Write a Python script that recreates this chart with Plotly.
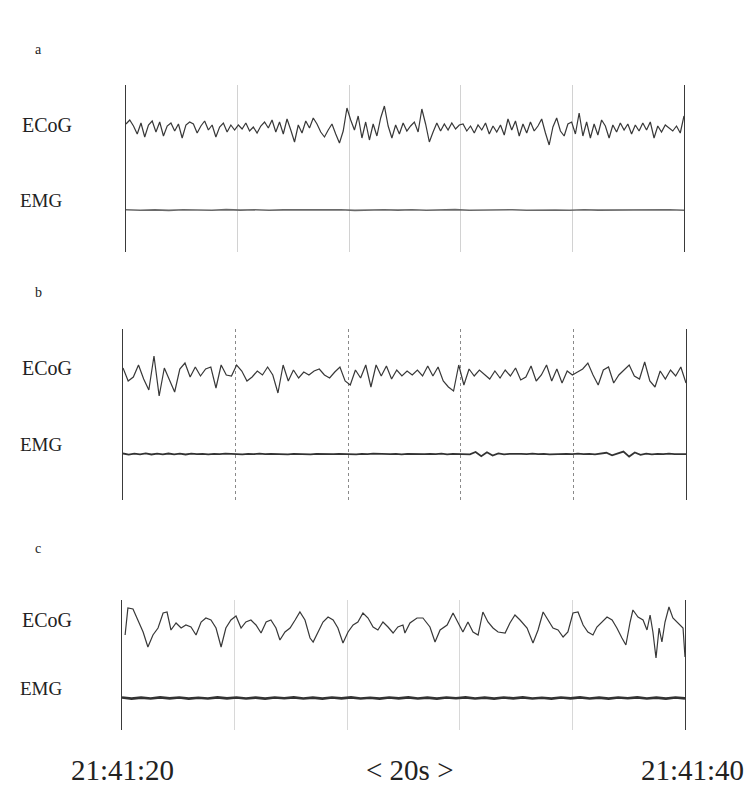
import numpy as np
import plotly.graph_objects as go

# ---------------- data ----------------
panel_letters = ["a", "b", "c"]
channel_names = ["ECoG", "EMG"]
time_labels = ["21:41:20", "< 20s >", "21:41:40"]
grid_seconds = [4, 8, 12, 16]
duration_s = 20

# panel a ECoG (evenly sampled over 20 s)
ecog_a = [4, 8, 2, -6, 5, -9, 3, 7, -4, 6, -8, 2, 5, -3, 4, -10, 3, 6, 4, -5, 2, 7, -2, 3, -9, 1, 5, -4, 3, -2,
          3, -1, 5, -3, 1, -5, 2, 6, 0, 8, -4, 6, -6, 9, -2, -14, 3, -5, 7, 0, 10, 4, -4, -9, -2, 4, -6, -15, -3, 20,
          8, -2, 12, -10, 6, -12, 4, -8, 10, 22, 2, -10, 3, -6, 5, -3, 2, 6, -4, 19, 4, -14, -4, 5, -3, 4, -2, 5, -1, 3,
          4, -3, 2, -5, 3, -2, 5, -6, 2, -4, 3, -7, 9, -2, 7, -8, 4, -5, 6, -3, 2, 9, -5, -17, 1, 10, -3, -8, 4, 6,
          -6, 15, -8, 6, -10, 4, -7, 8, 2, -10, 3, -4, 5, -2, 4, -6, 3, -3, 5, -2, 6, -10, 2, -4, 3, 0, -3, 2, -5, 12]

# panel b ECoG (evenly sampled over 20 s)
ecog_b = [5, -8, -4, 8, -6, -17, 17, -23, 5, -8, -19, 4, 10, -4, 6, -3, 4, 6, -15, 8, -2, -3, 8, 2, -8, -4, 2, -2,
          6, -2, -20, 8, -8, 3, -5, 1, -2, 2, 4, -2, -5, 1, 6, -8, -12, 3, -5, 8, -14, 8, -3, 7, -6, 3, -3, 2, -2, 3,
          -3, 7, -3, 6, -8, -14, -18, 8, -12, 4, -3, 3, -2, -6, 2, -5, 3, -3, 5, -7, -4, 7, -8, -2, 8, -8, 4, -10, 2,
          -2, 1, 4, 10, -2, -12, 3, 6, -10, -2, 3, 8, -3, -6, 11, -8, -14, 2, -6, 3, -3, 6, -10]

# panel c ECoG: sample times (s) and values
t_c = [0.11, 0.21, 0.39, 0.57, 0.75, 0.92, 1.10, 1.28, 1.46, 1.60, 1.74, 1.92, 2.10, 2.27, 2.45, 2.63, 2.81, 2.98,
       3.16, 3.34, 3.52, 3.69, 3.87, 4.05, 4.23, 4.40, 4.58, 4.76, 4.94, 5.12, 5.29, 5.47, 5.61, 5.79, 5.97, 6.15,
       6.32, 6.50, 6.68, 6.79, 6.96, 7.14, 7.32, 7.50, 7.67, 7.85, 8.03, 8.21, 8.38, 8.56, 8.74, 8.92, 9.09, 9.27,
       9.45, 9.63, 9.80, 9.98,
       10.05, 10.23, 10.48, 10.69, 10.94, 11.12, 11.30, 11.55, 11.76, 11.94, 12.11, 12.29, 12.47, 12.65, 12.82,
       13.00, 13.18, 13.36, 13.61, 13.78, 13.96, 14.14, 14.39, 14.60, 14.78, 14.96, 15.13, 15.31, 15.49, 15.67,
       15.84, 16.02, 16.20, 16.38, 16.55, 16.73, 16.87, 17.05, 17.23, 17.41, 17.58, 17.76, 17.90, 18.05, 18.15,
       18.33, 18.51, 18.65, 18.76, 18.86, 18.97, 19.08, 19.18, 19.29, 19.43, 19.57, 19.75, 19.93, 20.0]
ecog_c = [-7, 20, 19, 8, -4, -19, -7, 0, 15, 16, -2, 5, 0, 3, 1, -7, 6, 10, 8, 0, -19, 0, 8, 12, 0, 6, 8, 3, -5,
          6, 8, 0, -12, -4, 0, 8, 16, 8, -10, -14, -4, 6, 11, 8, 0, -15, -4, 3, 6, 15, 10, 1, -2, 6, 1, -5, 1, 3,
          -5, 5, 10, 10, 1, -14, -2, 3, 15, 6, -4, 6, -4, -7, 16, 6, 0, -4, -5, 5, 13, 8, 0, -15, -2, 16, 8, 0,
          -2, -9, -4, 15, 16, 3, -4, -7, 1, 6, 11, 8, 0, -10, -17, 6, 18, 11, 8, -2, 13, -4, -30, 0, -14, 6, 21,
          10, 5, 0, -29]

# EMG channels (evenly sampled)
emg_a = [0.3, -0.2, 0.1, -0.4, 0.2, 0.0, -0.3, 0.4, -0.1, 0.2, -0.3, 0.1, 0.3, -0.2, 0.0, 0.2, -0.4, 0.1, 0.3, -0.1,
         0.2, -0.3, 0.0, 0.4, -0.2, 0.1, -0.1, 0.3, -0.3, 0.2, 0.0, -0.2, 0.3, -0.1, 0.1, -0.4, 0.2, 0.0, 0.3, -0.2]
emg_b = [0.5, -0.6, 0.4, -0.3, 0.6, -0.5, 0.3, -0.4, 0.5, -0.3,
         0.4, -0.5, 0.3, -0.2, 0.2, -0.3, 0.1, -0.2, 0.3, -0.1,
         0.2, -0.3, 0.1, -0.2, 0.3, -0.2, 0.2, -0.1, 0.3, -0.3,
         0.2, -0.2, 0.1, -0.3, 0.2, -0.1, 0.3, -0.2, 0.1, -0.2,
         0.2, -0.3, 0.1, -0.2, 0.3, -0.1, 0.2, -0.2, 0.1, -0.3,
         0.2, -0.1, 0.3, -0.2, 0.1, -0.2, 0.3, -0.3, 0.2, -0.1,
         0.3, -0.4, 2.0, -2.2, 1.8, -1.5, 0.6, -0.3, 0.2, -0.2,
         0.1, -0.2, 0.3, -0.1, 0.2, -0.3, 0.1, -0.2, 0.2, -0.1,
         0.3, -0.2, 0.2, -0.3, 0.4, 1.2, -1.4, 0.5, 2.4, -2.6,
         1.5, -0.8, 0.4, -0.3, 0.2, -0.2, 0.3, -0.1, 0.2, -0.2]
emg_c = [0.5, -0.6, 0.4, -0.5, 0.6, -0.4, 0.5, -0.6, 0.3, -0.5, 0.6, -0.4, 0.5, -0.5, 0.4, -0.6, 0.5, -0.3, 0.6, -0.5,
         0.4, -0.6, 0.5, -0.4, 0.6, -0.5, 0.3, -0.6, 0.5, -0.4, 0.6, -0.5, 0.4, -0.6, 0.5, -0.3, 0.6, -0.5, 0.4, -0.6,
         0.5, -0.4, 0.6, -0.5, 0.3, -0.6, 0.5, -0.4, 0.6, -0.5, 0.4, -0.6, 0.5, -0.3, 0.6, -0.5, 0.4, -0.6, 0.5, -0.4]

# ---------------- layout geometry (pixels of the 756x794 window) ----------------
WIN_W, WIN_H = 756, 794
OFF = 8                      # default page body margin
W, H = WIN_W - 2 * OFF, WIN_H - 2 * OFF


def px(x):
    return (x - OFF) / W


def py(y):
    return 1 - (y - OFF) / H


panels = [
    dict(l=126, r=684, top=85, bottom=252, base=128, emg=210, grid="#d2d2d2", dash="solid", emgc="#6a6a6a", emgw=1.6),
    dict(l=123, r=686, top=329, bottom=500, base=373, emg=454, grid="#8a8a8a", dash="dot", emgc="#333333", emgw=1.8),
    dict(l=122, r=685, top=600, bottom=730, base=628, emg=698, grid="#d8d8d8", dash="solid", emgc="#333333", emgw=2.6),
]
letter_pos = [(38, 50), (38, 292), (38, 548)]
ecog_label_y = [125, 368, 620]
emg_label_y = [201, 444, 688]

serif = "Liberation Serif, Times New Roman, serif"
trace_color = "#383838"

ecog_x = [np.linspace(0, duration_s, len(ecog_a)), np.linspace(0, duration_s, len(ecog_b)), t_c]
ecog_y = [ecog_a, ecog_b, ecog_c]
emg_y = [emg_a, emg_b, emg_c]

fig = go.Figure()
layout = dict(
    width=W, height=H, autosize=False,
    margin=dict(l=0, r=0, t=0, b=0),
    paper_bgcolor="white", plot_bgcolor="white",
    showlegend=False,
)
annotations = []

for i, p in enumerate(panels):
    suffix = "" if i == 0 else str(i + 1)
    xa, ya = "x" + suffix, "y" + suffix
    fig.add_trace(go.Scatter(x=ecog_x[i], y=ecog_y[i], mode="lines",
                             line=dict(color=trace_color, width=1.2), xaxis=xa, yaxis=ya,
                             hoverinfo="skip"))
    off = p["base"] - p["emg"]
    emg_vals = np.array(emg_y[i]) + off
    fig.add_trace(go.Scatter(x=np.linspace(0, duration_s, len(emg_vals)), y=emg_vals, mode="lines",
                             line=dict(color=p["emgc"], width=p["emgw"]), xaxis=xa, yaxis=ya,
                             hoverinfo="skip"))
    layout["xaxis" + suffix] = dict(
        domain=[px(p["l"]), px(p["r"])], range=[0, duration_s], anchor=ya,
        showgrid=True, tickvals=grid_seconds, gridcolor=p["grid"], griddash=p["dash"], gridwidth=1,
        showticklabels=False, ticks="", zeroline=False, showline=False, fixedrange=True,
    )
    layout["yaxis" + suffix] = dict(
        domain=[py(p["bottom"]), py(p["top"])],
        range=[p["base"] - p["bottom"], p["base"] - p["top"]], anchor=xa,
        showgrid=False, zeroline=False, showticklabels=False, ticks="",
        showline=True, mirror=True, linecolor="#3a3a3a", linewidth=1.3, fixedrange=True,
    )
    lx, ly = letter_pos[i]
    annotations.append(dict(x=px(lx), y=py(ly), xref="paper", yref="paper", text=panel_letters[i],
                            showarrow=False, font=dict(family=serif, size=14, color="#222"),
                            xanchor="center", yanchor="middle"))
    annotations.append(dict(x=px(47), y=py(ecog_label_y[i]), xref="paper", yref="paper",
                            text=channel_names[0], showarrow=False,
                            font=dict(family=serif, size=20, color="#222"), xanchor="center", yanchor="middle"))
    annotations.append(dict(x=px(41), y=py(emg_label_y[i]), xref="paper", yref="paper",
                            text=channel_names[1], showarrow=False,
                            font=dict(family=serif, size=19, color="#222"), xanchor="center", yanchor="middle"))

for txt, cx in zip(time_labels, [122, 410, 692]):
    annotations.append(dict(x=px(cx), y=py(770), xref="paper", yref="paper", text=txt, showarrow=False,
                            font=dict(family=serif, size=29, color="#222"), xanchor="center", yanchor="middle"))

layout["annotations"] = annotations
fig.update_layout(**layout)
fig.write_html("out.html")
